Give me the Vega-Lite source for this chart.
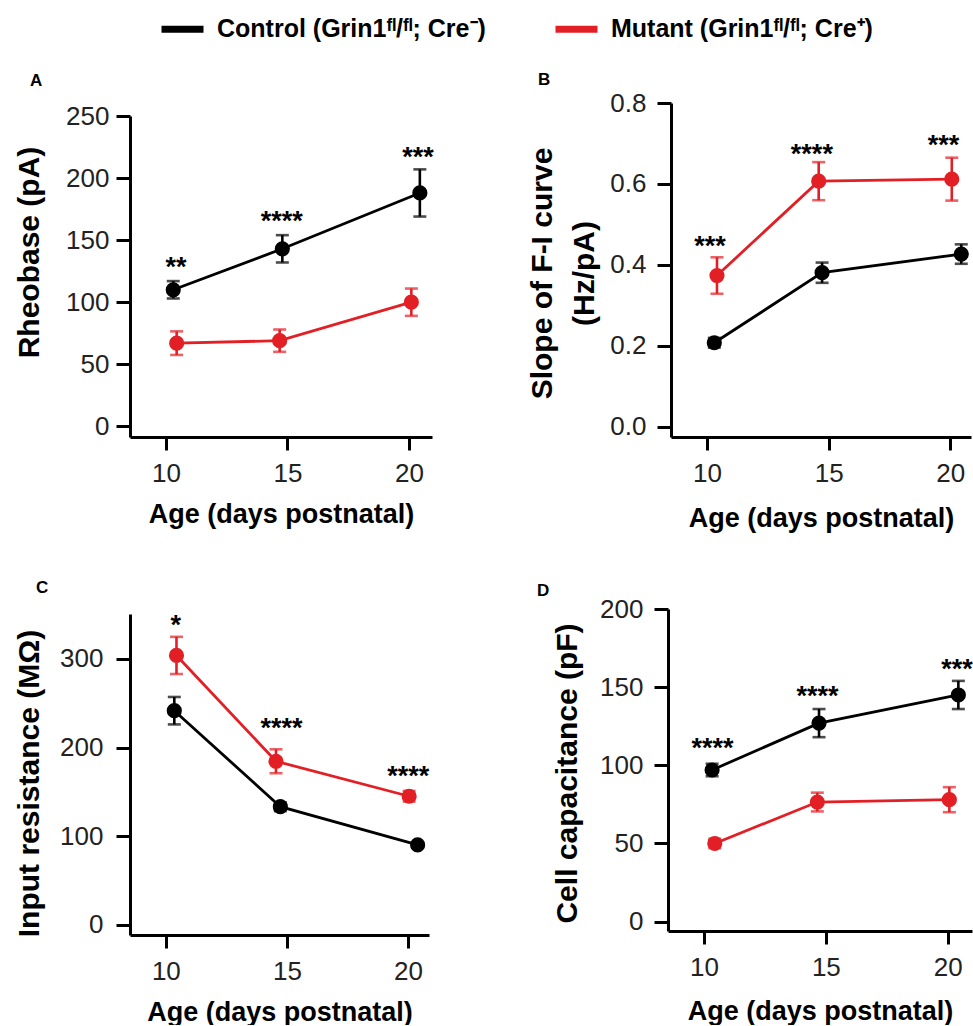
{
  "$schema": "https://vega.github.io/schema/vega-lite/v6.json",
  "padding": {"left": 13, "top": 4, "right": 0, "bottom": 0},
  "background": "white",
  "data": {"values": [
    {"panel": "A", "group": "Control", "age": 10.3, "value": 110, "sem": 7},
    {"panel": "A", "group": "Control", "age": 14.79, "value": 143, "sem": 11},
    {"panel": "A", "group": "Control", "age": 20.45, "value": 188, "sem": 19},
    {"panel": "A", "group": "Mutant", "age": 10.44, "value": 67, "sem": 9.5},
    {"panel": "A", "group": "Mutant", "age": 14.68, "value": 69, "sem": 9},
    {"panel": "A", "group": "Mutant", "age": 20.1, "value": 100, "sem": 11},
    {"panel": "A", "age": 10.41, "value": 133, "label": "**"},
    {"panel": "A", "age": 14.77, "value": 170, "label": "****"},
    {"panel": "A", "age": 20.37, "value": 222, "label": "***"},
    {"panel": "B", "group": "Control", "age": 10.3, "value": 0.208, "sem": 0.012},
    {"panel": "B", "group": "Control", "age": 14.73, "value": 0.381, "sem": 0.025},
    {"panel": "B", "group": "Control", "age": 20.45, "value": 0.427, "sem": 0.024},
    {"panel": "B", "group": "Mutant", "age": 10.41, "value": 0.374, "sem": 0.045},
    {"panel": "B", "group": "Mutant", "age": 14.59, "value": 0.607, "sem": 0.047},
    {"panel": "B", "group": "Mutant", "age": 20.06, "value": 0.612, "sem": 0.053},
    {"panel": "B", "age": 10.12, "value": 0.462, "label": "***"},
    {"panel": "B", "age": 14.31, "value": 0.689, "label": "****"},
    {"panel": "B", "age": 19.72, "value": 0.712, "label": "***"},
    {"panel": "C", "group": "Control", "age": 10.35, "value": 241.6, "sem": 15.5},
    {"panel": "C", "group": "Control", "age": 14.73, "value": 133.2, "sem": 5},
    {"panel": "C", "group": "Control", "age": 20.4, "value": 90, "sem": 3},
    {"panel": "C", "group": "Mutant", "age": 10.44, "value": 304, "sem": 21},
    {"panel": "C", "group": "Mutant", "age": 14.55, "value": 184.5, "sem": 13.5},
    {"panel": "C", "group": "Mutant", "age": 20.05, "value": 145, "sem": 6},
    {"panel": "C", "age": 10.41, "value": 345.5, "label": "*"},
    {"panel": "C", "age": 14.78, "value": 228.4, "label": "****"},
    {"panel": "C", "age": 20.01, "value": 174.5, "label": "****"},
    {"panel": "D", "group": "Control", "age": 10.33, "value": 97, "sem": 4},
    {"panel": "D", "group": "Control", "age": 14.72, "value": 127, "sem": 9},
    {"panel": "D", "group": "Control", "age": 20.44, "value": 145, "sem": 9},
    {"panel": "D", "group": "Mutant", "age": 10.44, "value": 50, "sem": 3},
    {"panel": "D", "group": "Mutant", "age": 14.65, "value": 76.5, "sem": 6},
    {"panel": "D", "group": "Mutant", "age": 20.07, "value": 78, "sem": 8},
    {"panel": "D", "age": 10.35, "value": 114.6, "label": "****"},
    {"panel": "D", "age": 14.66, "value": 148.3, "label": "****"},
    {"panel": "D", "age": 20.38, "value": 165.3, "label": "***"}
  ]},
  "spacing": 48,
  "vconcat": [
    {
      "spacing": 92,
      "hconcat": [
        {
          "width": 302, "height": 334,
          "title": {"text": "A", "dx": -100, "offset": 13, "fontSize": 17},
          "transform": [{"filter": "datum.panel === 'A'"}],
          "encoding": {
            "x": {"field": "age", "type": "quantitative", "scale": {"domain": [8.52, 20.95], "nice": false, "zero": false}, "axis": {"values": [10, 15, 20], "title": "Age (days postnatal)", "titleY": 85, "titleBaseline": "alphabetic"}},
            "y": {"field": "value", "type": "quantitative", "scale": {"domain": [-8.6, 250], "range": [334, 13], "nice": false, "zero": false}, "axis": {"values": [0, 50, 100, 150, 200, 250], "title": "Rheobase (pA)", "titleX": -86, "titleY": 149, "labelPadding": 7}},
            "color": {"field": "group", "type": "nominal", "scale": {"domain": ["Control", "Mutant"], "range": ["#000000", "#e31f26"]}, "legend": {"orient": "none", "legendX": 28, "legendY": -98.5, "direction": "horizontal", "title": null, "symbolType": "stroke", "symbolOpacity": 1, "labelExpr": "datum.label === 'Control' ? 'Control (Grin1ᶠˡ/ᶠˡ; Cre⁻)' : 'Mutant (Grin1ᶠˡ/ᶠˡ; Cre⁺)'"}}
          },
          "layer": [
            {"transform": [{"filter": "isValid(datum.group)"}], "mark": {"type": "line", "strokeWidth": 2.8}},
            {"transform": [{"filter": "isValid(datum.group)"}], "mark": {"type": "errorbar", "thickness": 2.6, "ticks": {"size": 13}}, "encoding": {"yError": {"field": "sem"}}},
            {"transform": [{"filter": "isValid(datum.group)"}], "mark": {"type": "circle", "size": 230, "opacity": 1}},
            {"transform": [{"filter": "isValid(datum.label)"}], "mark": {"type": "text", "fontSize": 27, "fontWeight": "bold", "baseline": "middle", "dy": 7}, "encoding": {"text": {"field": "label"}, "color": {"value": "#000000"}}}
          ]
        },
        {
          "width": 300, "height": 334,
          "title": {"text": "B", "dx": -133, "offset": 1, "fontSize": 17},
          "transform": [{"filter": "datum.panel === 'B'"}],
          "encoding": {
            "x": {"field": "age", "type": "quantitative", "scale": {"domain": [8.52, 20.85], "nice": false, "zero": false}, "axis": {"values": [10, 15, 20], "title": "Age (days postnatal)", "titleY": 89, "titleBaseline": "alphabetic"}},
            "y": {"field": "value", "type": "quantitative", "scale": {"domain": [-0.0247, 0.8], "nice": false, "zero": false}, "axis": {"values": [0, 0.2, 0.4, 0.6, 0.8], "format": ".1f", "title": ["Slope of F-I curve", "(Hz/pA)"], "titleX": -114, "titleY": 170, "labelPadding": 11}},
            "color": {"field": "group", "type": "nominal", "scale": {"domain": ["Control", "Mutant"], "range": ["#000000", "#e31f26"]}, "legend": {"orient": "none", "legendX": 28, "legendY": -98.5, "direction": "horizontal", "title": null, "symbolType": "stroke", "symbolOpacity": 1, "labelExpr": "datum.label === 'Control' ? 'Control (Grin1ᶠˡ/ᶠˡ; Cre⁻)' : 'Mutant (Grin1ᶠˡ/ᶠˡ; Cre⁺)'"}}
          },
          "layer": [
            {"transform": [{"filter": "isValid(datum.group)"}], "mark": {"type": "line", "strokeWidth": 2.8}},
            {"transform": [{"filter": "isValid(datum.group)"}], "mark": {"type": "errorbar", "thickness": 2.6, "ticks": {"size": 13}}, "encoding": {"yError": {"field": "sem"}}},
            {"transform": [{"filter": "isValid(datum.group)"}], "mark": {"type": "circle", "size": 230, "opacity": 1}},
            {"transform": [{"filter": "isValid(datum.label)"}], "mark": {"type": "text", "fontSize": 27, "fontWeight": "bold", "baseline": "middle", "dy": 7}, "encoding": {"text": {"field": "label"}, "color": {"value": "#000000"}}}
          ]
        }
      ]
    },
    {
      "spacing": 107,
      "hconcat": [
        {
          "width": 299, "height": 326,
          "title": {"text": "C", "dx": -94, "offset": 12, "fontSize": 17},
          "transform": [{"filter": "datum.panel === 'C'"}],
          "encoding": {
            "x": {"field": "age", "type": "quantitative", "scale": {"domain": [8.52, 20.87], "nice": false, "zero": false}, "axis": {"values": [10, 15, 20], "title": "Age (days postnatal)", "titleY": 85, "titleBaseline": "alphabetic"}},
            "y": {"field": "value", "type": "quantitative", "scale": {"domain": [-11.7, 350.8], "range": [326, 5], "nice": false, "zero": false}, "axis": {"values": [0, 100, 200, 300], "title": "Input resistance (MΩ)", "titleX": -86, "titleY": 174, "labelPadding": 13}},
            "color": {"field": "group", "type": "nominal", "scale": {"domain": ["Control", "Mutant"], "range": ["#000000", "#e31f26"]}, "legend": {"orient": "none", "legendX": 28, "legendY": -98.5, "direction": "horizontal", "title": null, "symbolType": "stroke", "symbolOpacity": 1, "labelExpr": "datum.label === 'Control' ? 'Control (Grin1ᶠˡ/ᶠˡ; Cre⁻)' : 'Mutant (Grin1ᶠˡ/ᶠˡ; Cre⁺)'"}}
          },
          "layer": [
            {"transform": [{"filter": "isValid(datum.group)"}], "mark": {"type": "line", "strokeWidth": 2.8}},
            {"transform": [{"filter": "isValid(datum.group)"}], "mark": {"type": "errorbar", "thickness": 2.6, "ticks": {"size": 13}}, "encoding": {"yError": {"field": "sem"}}},
            {"transform": [{"filter": "isValid(datum.group)"}], "mark": {"type": "circle", "size": 230, "opacity": 1}},
            {"transform": [{"filter": "isValid(datum.label)"}], "mark": {"type": "text", "fontSize": 27, "fontWeight": "bold", "baseline": "middle", "dy": 7}, "encoding": {"text": {"field": "label"}, "color": {"value": "#000000"}}}
          ]
        },
        {
          "width": 304, "height": 322,
          "title": {"text": "D", "dx": -131, "offset": -4, "fontSize": 17},
          "transform": [{"filter": "datum.panel === 'D'"}],
          "encoding": {
            "x": {"field": "age", "type": "quantitative", "scale": {"domain": [8.52, 21.0], "nice": false, "zero": false}, "axis": {"values": [10, 15, 20], "title": "Age (days postnatal)", "titleY": 88, "titleBaseline": "alphabetic"}},
            "y": {"field": "value", "type": "quantitative", "scale": {"domain": [-6, 200], "nice": false, "zero": false}, "axis": {"values": [0, 50, 100, 150, 200], "title": "Cell capacitance (pF)", "titleX": -86, "titleY": 164, "labelPadding": 11}},
            "color": {"field": "group", "type": "nominal", "scale": {"domain": ["Control", "Mutant"], "range": ["#000000", "#e31f26"]}, "legend": {"orient": "none", "legendX": 28, "legendY": -98.5, "direction": "horizontal", "title": null, "symbolType": "stroke", "symbolOpacity": 1, "labelExpr": "datum.label === 'Control' ? 'Control (Grin1ᶠˡ/ᶠˡ; Cre⁻)' : 'Mutant (Grin1ᶠˡ/ᶠˡ; Cre⁺)'"}}
          },
          "layer": [
            {"transform": [{"filter": "isValid(datum.group)"}], "mark": {"type": "line", "strokeWidth": 2.8}},
            {"transform": [{"filter": "isValid(datum.group)"}], "mark": {"type": "errorbar", "thickness": 2.6, "ticks": {"size": 13}}, "encoding": {"yError": {"field": "sem"}}},
            {"transform": [{"filter": "isValid(datum.group)"}], "mark": {"type": "circle", "size": 230, "opacity": 1}},
            {"transform": [{"filter": "isValid(datum.label)"}], "mark": {"type": "text", "fontSize": 27, "fontWeight": "bold", "baseline": "middle", "dy": 7}, "encoding": {"text": {"field": "label"}, "color": {"value": "#000000"}}}
          ]
        }
      ]
    }
  ],
  "config": {
    "view": {"stroke": null},
    "font": "Liberation Sans",
    "title": {"fontSize": 17, "fontWeight": "bold", "font": "Liberation Sans", "anchor": "start", "frame": "group", "color": "#000000"},
    "axis": {"grid": false, "domainColor": "#000000", "domainWidth": 3, "tickColor": "#000000", "tickWidth": 3, "tickSize": 14, "labelFont": "Liberation Sans", "labelFontSize": 26, "labelColor": "#222222", "labelPadding": 10, "titleFont": "Liberation Sans", "titleFontWeight": "bold", "titleColor": "#000000"},
    "axisX": {"titleFontSize": 27, "tickSize": 13},
    "axisY": {"titleFontSize": 30, "titleLineHeight": 42},
    "legend": {"padding": 0, "labelFont": "Liberation Sans", "labelFontSize": 25, "labelFontWeight": "bold", "labelColor": "#000000", "labelLimit": 500, "labelOffset": 10, "symbolSize": 1764, "symbolStrokeWidth": 7, "symbolOpacity": 1, "columnPadding": 55}
  }
}
